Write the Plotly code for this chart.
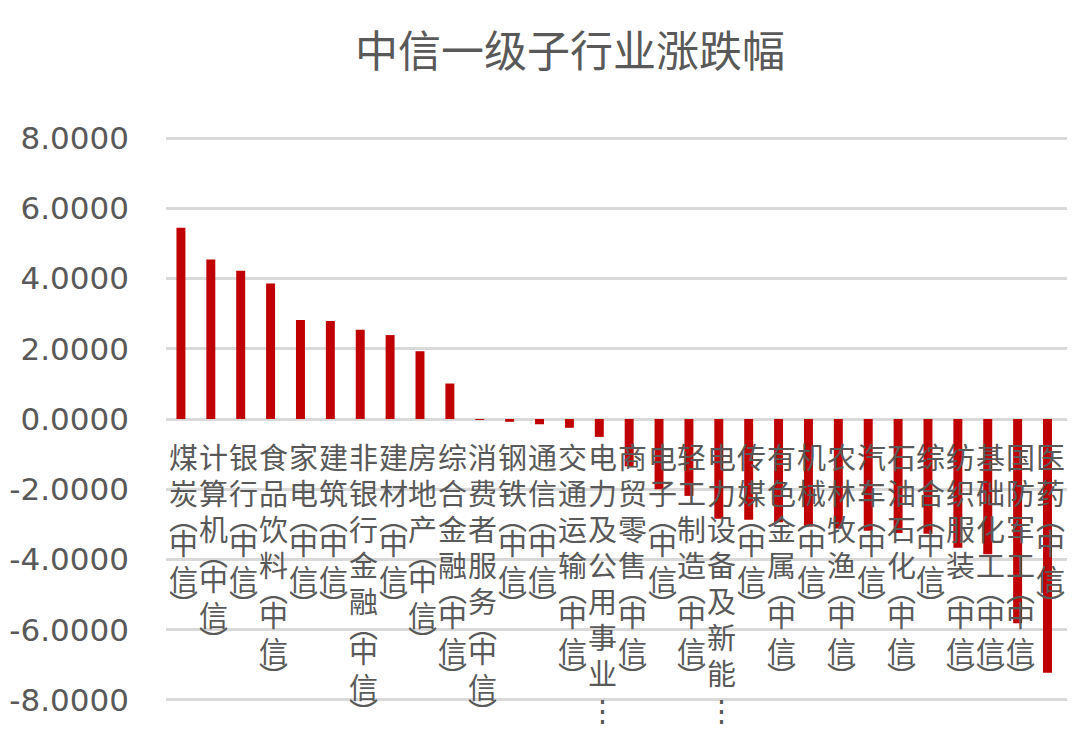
import plotly.graph_objects as go

categories = [
    "煤炭(中信)", "计算机(中信)", "银行(中信)", "食品饮料(中信)", "家电(中信)",
    "建筑(中信)", "非银行金融(中信)", "建材(中信)", "房地产(中信)", "综合金融(中信)",
    "消费者服务(中信)", "钢铁(中信)", "通信(中信)", "交通运输(中信)", "电力及公用事业(中信)",
    "商贸零售(中信)", "电子(中信)", "轻工制造(中信)", "电力设备及新能源(中信)", "传媒(中信)",
    "有色金属(中信)", "机械(中信)", "农林牧渔(中信)", "汽车(中信)", "石油石化(中信)",
    "综合(中信)", "纺织服装(中信)", "基础化工(中信)", "国防军工(中信)", "医药(中信)",
]
values = [
    5.45, 4.54, 4.22, 3.86, 2.82,
    2.79, 2.54, 2.39, 1.93, 1.01,
    -0.02, -0.08, -0.15, -0.25, -0.51,
    -1.35, -2.00, -2.19, -2.84, -2.87,
    -2.94, -3.06, -3.12, -3.18, -3.25,
    -3.27, -3.67, -3.85, -5.82, -7.23,
]
tick_vals = [8, 6, 4, 2, 0, -2, -4, -6, -8]
tick_text = [f"{v:.4f}" for v in tick_vals]

TEXT_COLOR = "#595959"
BAR_COLOR = "#C00000"
GRID_COLOR = "#D9D9D9"
LABEL_FONT = dict(family="Noto Sans CJK SC", size=29, color=TEXT_COLOR)

# page body has an 8px default margin, so the figure is sized to fill the window exactly
FIG_W, FIG_H = 1072, 732

fig = go.Figure()
fig.add_trace(go.Bar(x=categories, y=values, marker=dict(color=BAR_COLOR, line=dict(width=0)),
                     width=0.3, showlegend=False))

# vertical (stacked-character) category labels hanging from the zero line
CHAR_ADV = 36.0
PAREN_ADV = 14.5
START = 18.5
annotations = []
for cat in categories:
    disp = cat if len(cat) <= 9 else cat[:7] + "⋮"
    cursor = START
    for ch in disp:
        if ch in "()":
            glyph = "︵" if ch == "(" else "︶"
            center = cursor + PAREN_ADV / 2
            cursor += PAREN_ADV
        else:
            glyph = ch
            center = cursor + CHAR_ADV / 2
            cursor += CHAR_ADV
        annotations.append(dict(x=cat, y=0, xref="x", yref="y", text=glyph, showarrow=False,
                                xanchor="center", yanchor="middle", yshift=-center, xshift=3,
                                font=LABEL_FONT))

fig.update_layout(
    width=FIG_W, height=FIG_H,
    margin=dict(l=158, r=13, t=128, b=38),
    paper_bgcolor="white", plot_bgcolor="white",
    title=dict(text="中信一级子行业涨跌幅", x=562 / FIG_W, xanchor="center", y=1 - 44 / FIG_H,
               yanchor="middle",
               font=dict(family="Noto Sans CJK SC", size=43, color=TEXT_COLOR)),
    xaxis=dict(showticklabels=False, showgrid=False, zeroline=False, showline=False, ticks="",
               automargin=False),
    yaxis=dict(range=[-8.06, 8.06], tickvals=tick_vals, ticktext=tick_text, showgrid=True,
               gridcolor=GRID_COLOR, gridwidth=2.5, zeroline=False, showline=False, ticks="",
               ticklabelstandoff=36, automargin=False,
               tickfont=dict(family="DejaVu Sans", size=31, color=TEXT_COLOR)),
    annotations=annotations,
    bargap=0.7,
)

fig.write_html("out.html")
